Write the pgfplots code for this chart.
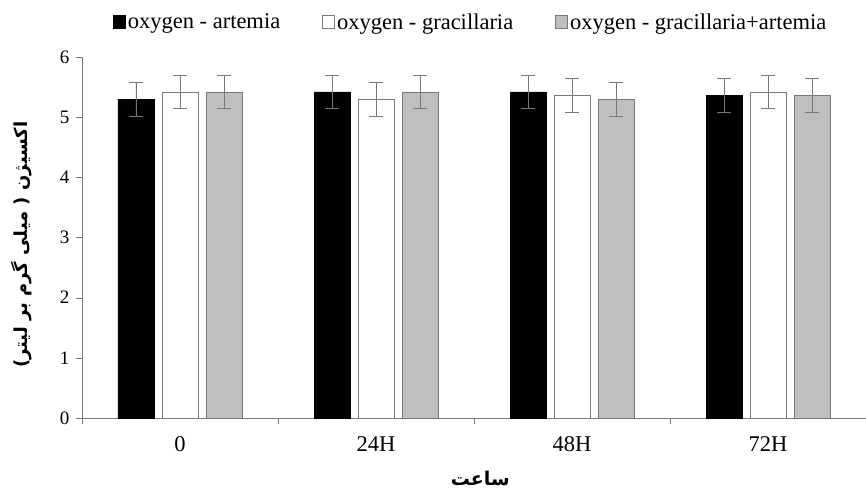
\documentclass[border=0pt]{standalone}
\usepackage{pgfplots}
\pgfplotsset{compat=1.18}
\usepackage{fontspec}
\setmainfont{Liberation Serif}
\newfontfamily\arabicfont[Script=Arabic]{DejaVu Sans}
\TeXXeTstate=1
\definecolor{barGray}{RGB}{191,191,191}
\definecolor{edgeGray}{RGB}{120,120,120}

\pgfplotsset{
    errs/.style={
        error bars/.cd, y dir=both, y explicit,
        error bar style={edgeGray, thick},
        error mark options={rotate=90, mark size=7pt, edgeGray, thick},
    },
}

\begin{document}
\begin{tikzpicture}
\useasboundingbox (-82pt,-81pt) rectangle (784pt,418pt);
\begin{axis}[
    at={(0,0)}, anchor=south west,
    width=784pt, height=361pt, scale only axis,
    ybar=8pt, bar width=36pt,
    xmin=-0.5, xmax=3.5, ymin=0, ymax=6,
    axis x line*=bottom, axis y line*=left,
    axis line style={edgeGray},
    xtick={0,1,2,3}, xticklabels={0,24H,48H,72H},
    major x tick style={draw=none},
    extra x ticks={-0.5,0.5,1.5,2.5}, extra x tick labels={},
    extra x tick style={major tick length=6pt, tick align=outside, major x tick style={draw=edgeGray}},
    ytick={0,...,6}, tick align=outside, major tick length=6pt,
    y tick style={edgeGray},
    /pgf/number format/assume math mode=true,
    xticklabel style={font=\fontsize{22.5}{25}\selectfont, anchor=center, yshift=-20pt},
    yticklabel style={font=\fontsize{19}{22}\selectfont, anchor=east, xshift=-3pt},
    ylabel={\arabicfont\bfseries\beginR اکسیژن ( میلی گرم بر لیتر)\endR},
    every axis y label/.style={at={(axis description cs:0,0.48)}, xshift=-60pt,
        rotate=90, anchor=center, font=\fontsize{18}{20}\selectfont},
    xlabel={\arabicfont\bfseries\beginR ساعت\endR},
    every axis x label/.style={at={(axis description cs:0.508,0)}, yshift=-60pt,
        anchor=center, font=\fontsize{19}{22}\selectfont},
    legend style={at={(axis description cs:0.496,1.097)}, anchor=center,
        legend columns=3, draw=none, fill=none, inner sep=0pt,
        font=\fontsize{22.5}{25}\selectfont,
        /tikz/every odd column/.append style={column sep=0pt},
        /tikz/every even column/.append style={column sep=40pt}},
    legend cell align=left,
    legend image code/.code={\draw[#1] (0pt,-6pt) rectangle (12pt,7pt);},
]
\addplot[fill=black, draw=black, errs] coordinates {
    (0,5.30) +- (0,0.28)
    (1,5.42) +- (0,0.28)
    (2,5.42) +- (0,0.28)
    (3,5.36) +- (0,0.28)
};
\addplot[fill=white, draw=edgeGray, thick, errs] coordinates {
    (0,5.42) +- (0,0.28)
    (1,5.30) +- (0,0.28)
    (2,5.36) +- (0,0.28)
    (3,5.42) +- (0,0.28)
};
\addplot[fill=barGray, draw=edgeGray, thick, errs] coordinates {
    (0,5.42) +- (0,0.28)
    (1,5.42) +- (0,0.28)
    (2,5.30) +- (0,0.28)
    (3,5.36) +- (0,0.28)
};
\legend{oxygen - artemia, oxygen - gracillaria, oxygen - gracillaria+artemia}
\end{axis}
\end{tikzpicture}
\end{document}
